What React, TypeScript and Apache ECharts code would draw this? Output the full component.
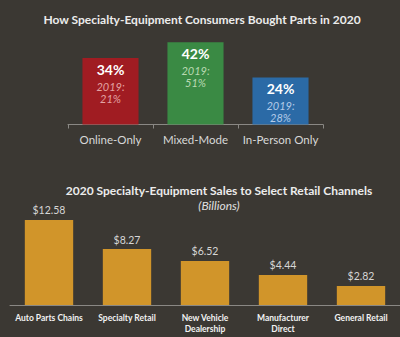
import React, { useEffect, useRef } from "react";
import * as echarts from "echarts";

const modeCategories = ["Online-Only", "Mixed-Mode", "In-Person Only"];
const mode2020 = [34, 42, 24];
const mode2019 = [21, 51, 28];
const modeColors = ["#a01c22", "#3a8a44", "#2b6aa6"];
const modeSubColors = ["#e3a3a3", "#b9d9b2", "#b4cbe8"];

const channelCategories = [
  "Auto Parts Chains",
  "Specialty Retail",
  "New Vehicle\nDealership",
  "Manufacturer\nDirect",
  "General Retail",
];
const channelSales = [12.58, 8.27, 6.52, 4.44, 2.82];

const FONT = "Lato";

export default function App() {
  const ref = useRef<HTMLDivElement>(null);
  useEffect(() => {
    if (!ref.current) return;
    const chart = echarts.init(ref.current, null, { renderer: "svg" });
    chart.setOption({
      animation: false,
      backgroundColor: "#3b3833",
      title: [
        {
          text: "How Specialty-Equipment Consumers Bought Parts in 2020",
          left: 197,
          top: 8,
          textAlign: "center",
          textStyle: { color: "#ececec", fontSize: 12, fontWeight: "bold", fontFamily: FONT },
        },
        {
          text: "2020 Specialty-Equipment Sales to Select Retail Channels",
          subtext: "(Billions)",
          left: 214,
          top: 179,
          textAlign: "center",
          itemGap: 3,
          textStyle: { color: "#ececec", fontSize: 12, fontWeight: "bold", fontFamily: FONT },
          subtextStyle: { color: "#e0e0e0", fontSize: 12, fontStyle: "italic", fontFamily: FONT },
        },
      ],
      grid: [
        { left: 68, width: 255, top: 36.5, height: 88 },
        { left: 10, width: 393, top: 210.4, height: 94.6 },
      ],
      xAxis: [
        {
          type: "category",
          gridIndex: 0,
          data: modeCategories,
          axisLine: { lineStyle: { color: "#8a8884", width: 1 } },
          axisTick: { show: true, length: 4, lineStyle: { color: "#8a8884" } },
          axisLabel: { color: "#d8d8d8", fontSize: 11.5, fontFamily: FONT, margin: 9, interval: 0 },
        },
        {
          type: "category",
          gridIndex: 1,
          data: channelCategories,
          axisLine: { lineStyle: { color: "#8a8884", width: 1 } },
          axisTick: { show: false },
          axisLabel: {
            color: "#f2f2f2",
            fontSize: 8.5,
            fontWeight: "bold",
            fontFamily: FONT,
            margin: 7,
            lineHeight: 11,
            interval: 0,
          },
        },
      ],
      yAxis: [
        { type: "value", gridIndex: 0, min: 0, max: 45, show: false },
        { type: "value", gridIndex: 1, min: 0, max: 14, show: false },
      ],
      series: [
        {
          type: "bar",
          xAxisIndex: 0,
          yAxisIndex: 0,
          barWidth: "66%",
          data: mode2020.map((v, i) => ({
            value: v,
            itemStyle: { color: modeColors[i] },
            label: {
              show: true,
              position: "insideTop",
              distance: 0,
              formatter: `{a|${v}%}\n{b|2019:}\n{b|${mode2019[i]}%}`,
              rich: {
                a: { color: "#ffffff", fontSize: 14, fontWeight: "bold", fontFamily: FONT, lineHeight: 22 },
                b: { color: modeSubColors[i], fontSize: 11, fontStyle: "italic", fontFamily: FONT, lineHeight: 12 },
              },
            },
          })),
        },
        {
          type: "bar",
          xAxisIndex: 1,
          yAxisIndex: 1,
          barWidth: "62%",
          itemStyle: { color: "#d1952a" },
          label: {
            show: true,
            position: "top",
            distance: 4,
            color: "#d6d6d6",
            fontSize: 10.5,
            fontFamily: FONT,
            formatter: (p: any) => "$" + p.value.toFixed(2),
          },
          data: channelSales,
        },
      ],
    });
    return () => chart.dispose();
  }, []);
  return <div ref={ref} style={{ position: "fixed", left: 0, top: 0, width: 400, height: 337 }} />;
}
